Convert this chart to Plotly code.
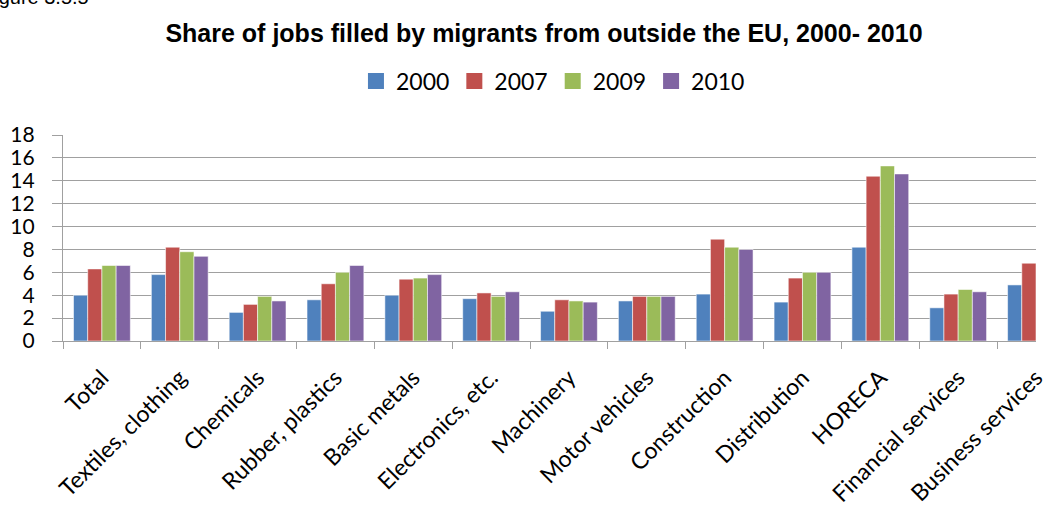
import plotly.graph_objects as go

# Sectors and the share of jobs filled by non-EU migrants (%)
categories = [
    "Total", "Textiles, clothing", "Chemicals", "Rubber, plastics",
    "Basic metals", "Electronics, etc.", "Machinery", "Motor vehicles",
    "Construction", "Distribution", "HORECA", "Financial services",
    "Business services",
]
years = ["2000", "2007", "2009", "2010"]
share_2000 = [4.0, 5.8, 2.5, 3.6, 4.0, 3.7, 2.6, 3.5, 4.1, 3.4, 8.2, 2.9, 4.9]
share_2007 = [6.3, 8.2, 3.2, 5.0, 5.4, 4.2, 3.6, 3.9, 8.9, 5.5, 14.4, 4.1, 6.8]
share_2009 = [6.6, 7.8, 3.9, 6.0, 5.5, 3.9, 3.5, 3.9, 8.2, 6.0, 15.3, 4.5, None]
share_2010 = [6.6, 7.4, 3.5, 6.6, 5.8, 4.3, 3.4, 3.9, 8.0, 6.0, 14.6, 4.3, None]
y_ticks = [0, 2, 4, 6, 8, 10, 12, 14, 16, 18]

series = [share_2000, share_2007, share_2009, share_2010]
colors = ["#4F81BD", "#C0504D", "#9BBB59", "#8064A2"]

W, H = 1048, 510
ML, MR, MT, MB = 63, 0, 135, 169
plot_w = W - ML - MR
plot_h = H - MT - MB

fig = go.Figure()
for year, vals, col in zip(years, series, colors):
    fig.add_trace(go.Bar(
        x=categories, y=vals, name=year, showlegend=False,
        marker=dict(color=col, line=dict(color="rgba(255,255,255,0.55)", width=1)),
    ))
# legend swatches
for year, col in zip(years, colors):
    fig.add_trace(go.Scatter(
        x=[None], y=[None], mode="markers", name=year,
        marker=dict(symbol="square", size=16, color=col),
    ))

axis_grey = "#a0a0a0"
fig.update_layout(
    width=W, height=H,
    margin=dict(l=ML, r=MR, t=MT, b=MB),
    paper_bgcolor="white", plot_bgcolor="white",
    barmode="group", bargap=0.27, bargroupgap=0,
    font=dict(family="Lato, Carlito, sans-serif", color="#000000"),
    title=dict(
        text="<b>Share of jobs filled by migrants from outside the EU, 2000- 2010</b>",
        font=dict(family="Liberation Sans, Arial, sans-serif", size=25, color="#000000"),
        x=544 / W, xanchor="center", xref="container",
        y=1 - 33 / H, yanchor="middle", yref="container",
    ),
    legend=dict(
        orientation="h", x=(559 - ML) / plot_w, xanchor="center",
        y=1 + (MT - 81) / plot_h, yanchor="middle",
        font=dict(size=23), bgcolor="rgba(0,0,0,0)",
        itemsizing="trace", tracegroupgap=0,
    ),
    showlegend=True,
)
fig.update_xaxes(
    type="category", range=[-0.5, 12.0],
    showline=True, linecolor=axis_grey, linewidth=1.3,
    ticks="outside", tickson="boundaries", ticklen=7, tickcolor=axis_grey, tickwidth=1.3,
    tickangle=-45, tickfont=dict(size=23), ticklabelstandoff=13, showgrid=False,
)
fig.update_yaxes(
    range=[0, 18], tickvals=y_ticks,
    showline=True, linecolor=axis_grey, linewidth=1.3,
    ticks="outside", ticklen=10, tickcolor=axis_grey, tickwidth=1.3,
    showgrid=True, gridcolor=axis_grey, gridwidth=1.3,
    zeroline=False, tickfont=dict(size=21), ticklabelstandoff=13,
)
# figure number line at the top-left, partly outside the page
fig.add_annotation(
    text="Figure 3.5.5", showarrow=False,
    xref="paper", yref="paper", x=(-21 - ML) / plot_w, xanchor="left",
    y=1 + (MT + 3) / plot_h, yanchor="middle",
    font=dict(family="Liberation Sans, Arial, sans-serif", size=20, color="#000000"),
)

fig.write_html("out.html")
